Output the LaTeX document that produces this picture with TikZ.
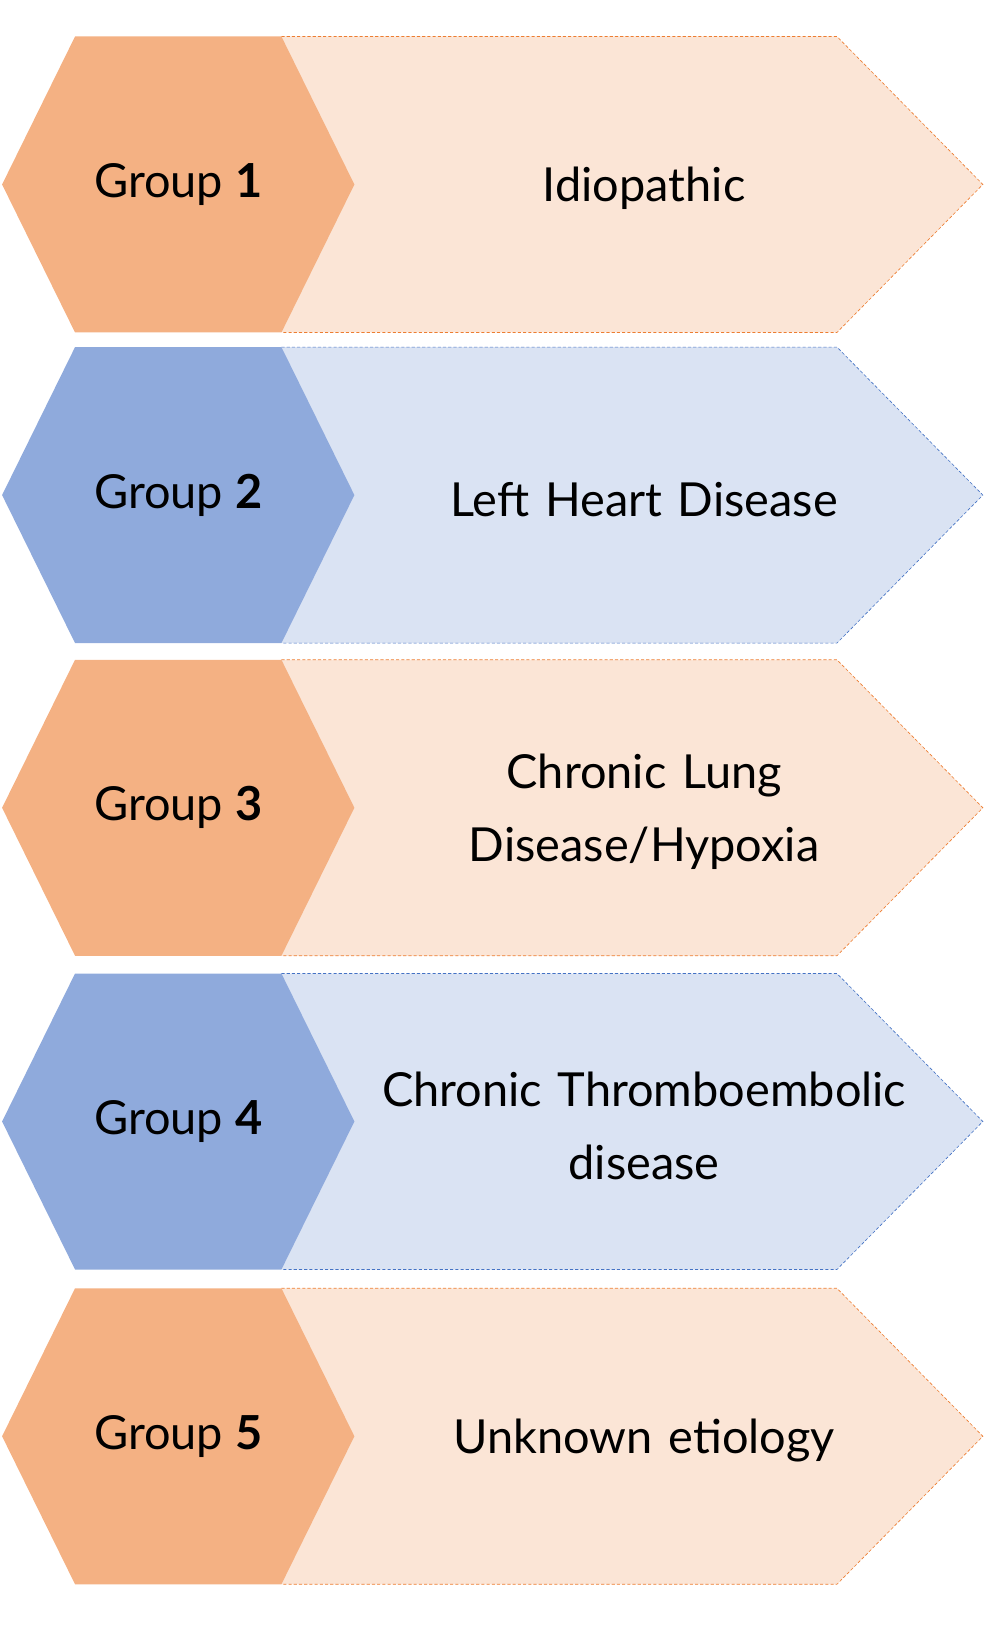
\documentclass[tikz,border=0pt]{standalone}
\usepackage{fontspec}
\setmainfont{Lato}
\usepackage{tikz}
\usetikzlibrary{calc,positioning}
\definecolor{orangedark}{HTML}{F4B183}
\definecolor{orangelight}{HTML}{FBE5D6}
\definecolor{orangeline}{HTML}{ED7D31}
\definecolor{bluedark}{HTML}{8FAADC}
\definecolor{bluelight}{HTML}{DAE3F3}
\definecolor{blueline}{HTML}{4472C4}
\tikzset{
  grouptext/.style={font=\fontsize{45}{54}\selectfont, text=black},
  causetext/.style={font=\fontsize{45}{70}\selectfont, text=black, align=center, text width=620pt}
}
\begin{document}
\begin{tikzpicture}[x=1pt, y=-1pt]
    \useasboundingbox (0,0) rectangle (946,1561);
    \foreach \top/\dark/\light/\line/\num/\cause in {
        35/orangedark/orangelight/orangeline/1/Idiopathic,
        333/bluedark/bluelight/blueline/2/Left Heart Disease,
        633/orangedark/orangelight/orangeline/3/{Chronic Lung\\Disease/Hypoxia},
        934/bluedark/bluelight/blueline/4/{Chronic Thromboembolic\\disease},
        1236/orangedark/orangelight/orangeline/5/Unknown etiology}
    {
        % arrow behind, hexagon in front
        \draw[fill=\light, draw=\line, densely dashed, line width=0.6pt]
            (270,\top) -- (803,\top) -- (943,\top+142) -- (803,\top+284) -- (270,\top+284);
        \fill[\dark] (72,\top) -- (270,\top) -- (340,\top+142) -- (270,\top+284)
            -- (72,\top+284) -- (2,\top+142) -- cycle;
        \node[grouptext] (group\num) at (171,\top+142) {Group \textbf{\num}};
        \node[causetext] (cause\num) at (618,\top+146) {\cause};
    }
\end{tikzpicture}
\end{document}
